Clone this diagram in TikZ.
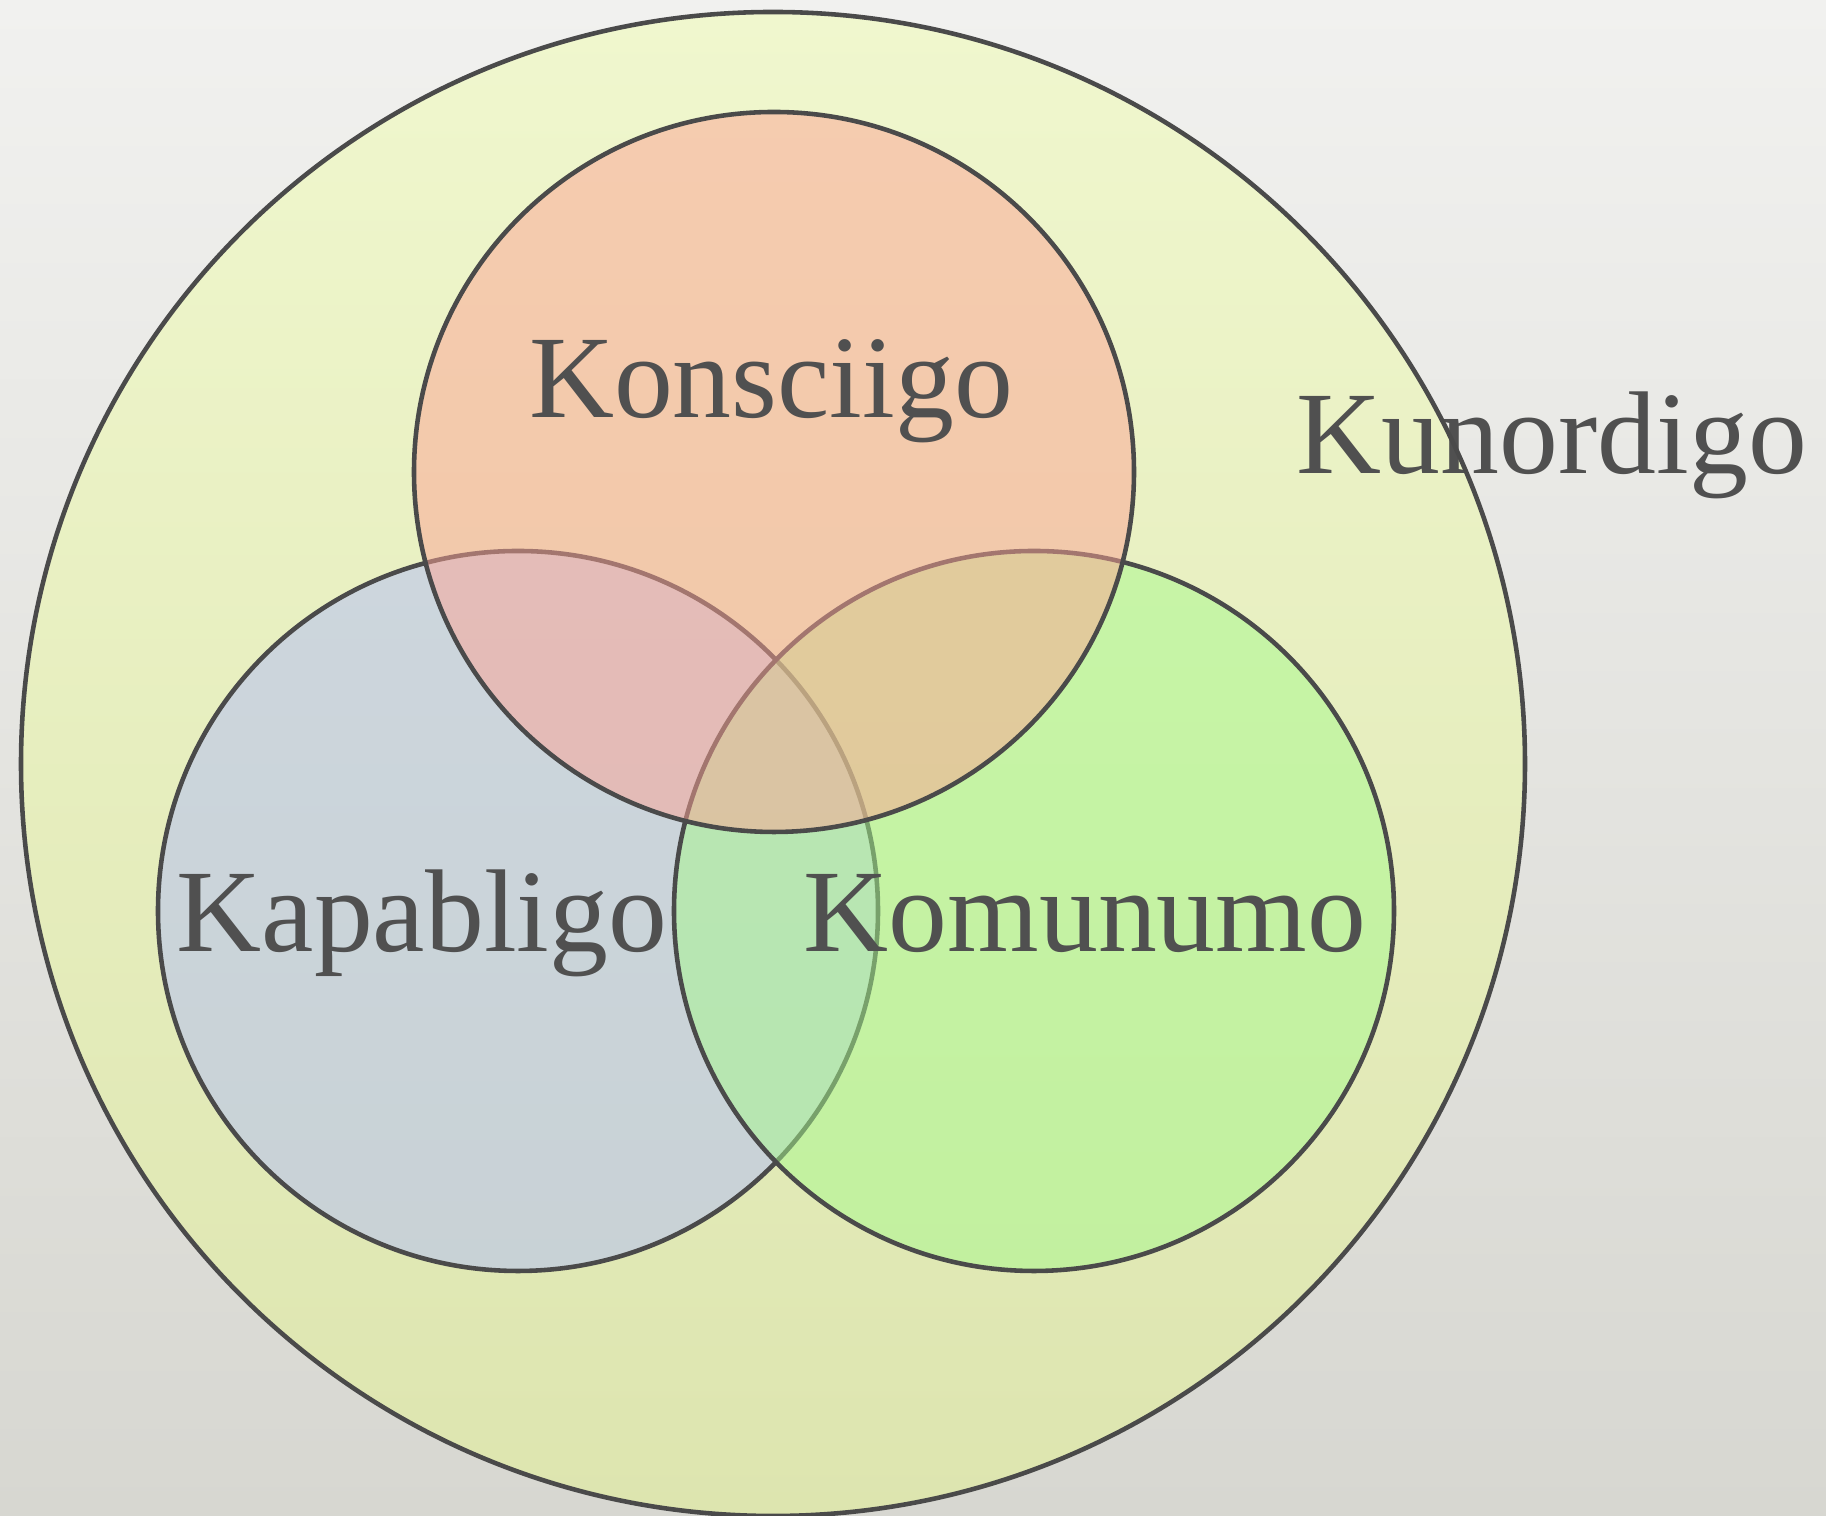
\documentclass[tikz,border=0pt]{standalone}
\usepackage{fontspec}
\setmainfont{Liberation Serif}
\usepackage{tikz}

\definecolor{bgtop}{RGB}{241,241,239}
\definecolor{bgbot}{RGB}{215,215,209}
\definecolor{outertop}{RGB}{240,247,206}
\definecolor{outerbot}{RGB}{221,229,175}
\definecolor{kapcol}{RGB}{178,189,248}
\definecolor{komcol}{RGB}{166,249,140}
\definecolor{koncol}{RGB}{252,163,148}
\definecolor{edge}{RGB}{74,74,74}
\definecolor{txt}{RGB}{80,80,80}

\begin{document}
\begin{tikzpicture}[
	ring/.style={draw=edge, line width=1.3pt},
	word/.style={anchor=base, text=txt, font=\fontsize{33.5}{40}\selectfont}]
	\useasboundingbox (0,0) rectangle (18.26,15.16);
	\shade [top color=bgtop, bottom color=bgbot] (0,0) rectangle (18.26,15.16);

	\def\r{3.6}
	% outer set
	\shade [top color=outertop, bottom color=outerbot] (7.73,7.52) circle (7.52);
	\node [word] (kun) at (15.52,10.42) {Kunordigo};
	\draw [ring] (7.73,7.52) circle (7.52);

	% the three sets
	\filldraw [ring, fill=kapcol, fill opacity=0.5] (5.18,6.05) circle (\r);
	\filldraw [ring, fill=komcol, fill opacity=0.5] (10.34,6.05) circle (\r);
	\filldraw [ring, fill=koncol, fill opacity=0.5] (7.74,10.44) circle (\r);

	\node [word] (kon) at (7.71,10.98) {Konsciigo};
	\node [word] (kap) at (4.22,5.64) {Kapabligo};
	\node [word] (kom) at (10.85,5.64) {Komunumo};
\end{tikzpicture}
\end{document}
